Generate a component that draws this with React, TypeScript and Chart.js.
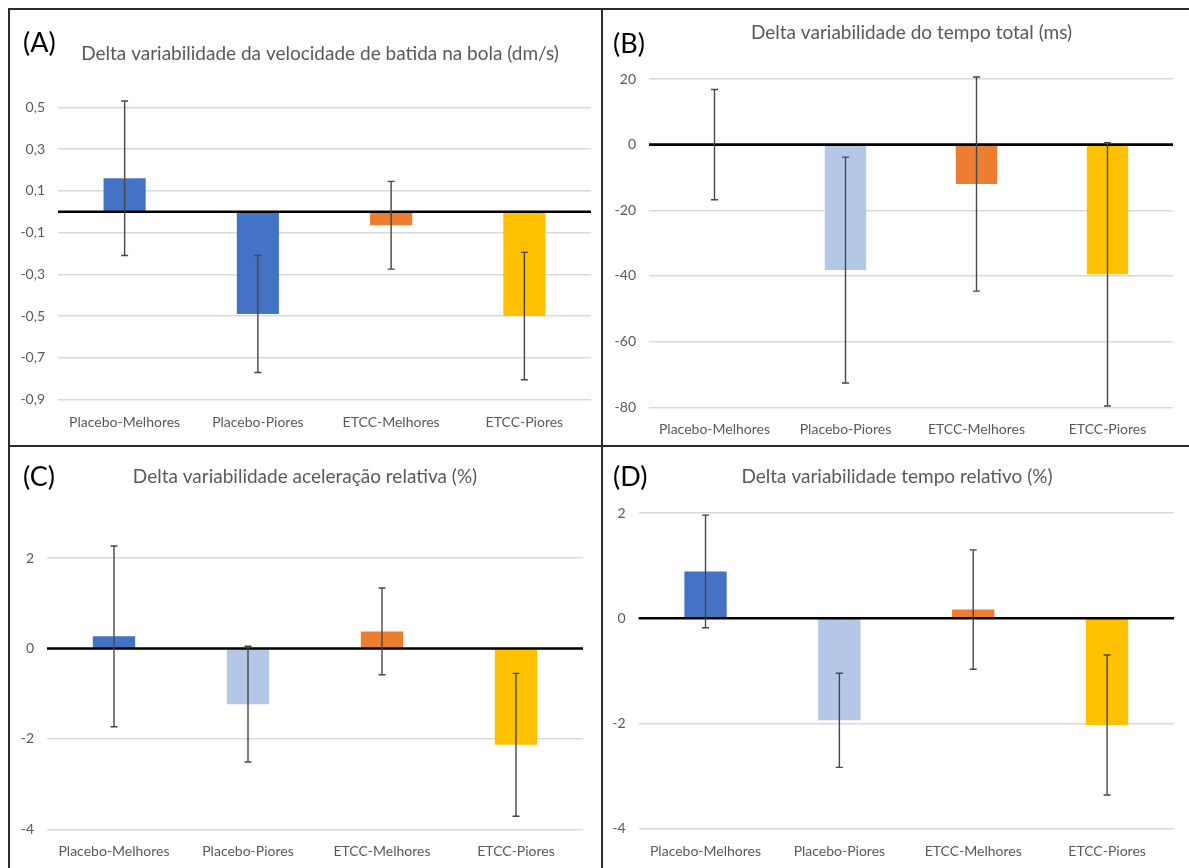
import React, { useEffect, useRef } from 'react';
import { Chart, registerables } from 'chart.js';
Chart.register(...registerables);

const categories = ['Placebo-Melhores', 'Placebo-Piores', 'ETCC-Melhores', 'ETCC-Piores'];

const valuesA = [0.16, -0.49, -0.065, -0.5];
const errorsA = [0.37, 0.28, 0.21, 0.305];
const ticksA = [0.5, 0.3, 0.1, -0.1, -0.3, -0.5, -0.7, -0.9];

const valuesB = [0, -38.2, -12, -39.5];
const errorsB = [16.8, 34.4, 32.6, 40.1];
const ticksB = [20, 0, -20, -40, -60, -80];

const valuesC = [0.27, -1.23, 0.38, -2.13];
const errorsC = [2.0, 1.28, 0.96, 1.58];
const ticksC = [2, 0, -2, -4];

const valuesD = [0.89, -1.94, 0.165, -2.03];
const errorsD = [1.07, 0.895, 1.135, 1.33];
const ticksD = [2, 0, -2, -4];

const colorsA = ['#4472C4', '#4472C4', '#ED7D31', '#FFC000'];
const colorsBCD = ['#4472C4', '#B4C7E7', '#ED7D31', '#FFC000'];

type Panel = {
  letter: string;
  title: string;
  values: number[];
  errors: number[];
  ticks: number[];
  colors: string[];
  min: number;
  max: number;
  canvas: { left: number; top: number; width: number; height: number };
  area: { left: number; right: number; top: number; bottom: number };
  titlePos: { x: number; y: number };
  letterPos: { x: number; y: number };
};

const panels: Panel[] = [
  {
    letter: '(A)',
    title: 'Delta variabilidade da velocidade de batida na bola (dm/s)',
    values: valuesA, errors: errorsA, ticks: ticksA, colors: colorsA,
    min: -0.9, max: 0.6,
    canvas: { left: 10, top: 10, width: 590, height: 435 },
    area: { left: 58, right: 591, top: 86.4, bottom: 399.6 },
    titlePos: { x: 320, y: 60 },
    letterPos: { x: 23, y: 52 },
  },
  {
    letter: '(B)',
    title: 'Delta variabilidade do tempo total (ms)',
    values: valuesB, errors: errorsB, ticks: ticksB, colors: colorsBCD,
    min: -80, max: 20,
    canvas: { left: 603, top: 10, width: 586, height: 435 },
    area: { left: 649, right: 1173, top: 79, bottom: 407.3 },
    titlePos: { x: 911.5, y: 39 },
    letterPos: { x: 613, y: 53 },
  },
  {
    letter: '(C)',
    title: 'Delta variabilidade aceleração relativa (%)',
    values: valuesC, errors: errorsC, ticks: ticksC, colors: colorsBCD,
    min: -4, max: 3,
    canvas: { left: 10, top: 447, width: 590, height: 421 },
    area: { left: 47, right: 583, top: 513, bottom: 829.3 },
    titlePos: { x: 305, y: 482.7 },
    letterPos: { x: 23, y: 486 },
  },
  {
    letter: '(D)',
    title: 'Delta variabilidade tempo relativo (%)',
    values: valuesD, errors: errorsD, ticks: ticksD, colors: colorsBCD,
    min: -4, max: 2,
    canvas: { left: 603, top: 447, width: 586, height: 421 },
    area: { left: 638.6, right: 1174, top: 513, bottom: 828.7 },
    titlePos: { x: 897, y: 482.7 },
    letterPos: { x: 613, y: 486 },
  },
];

const FONT = 'Lato, "Open Sans", sans-serif';

function fmt(v: number): string {
  const r = Math.round(v * 10) / 10;
  return String(r).replace('.', ',');
}

function PanelChart({ p }: { p: Panel }) {
  const ref = useRef<HTMLCanvasElement | null>(null);
  useEffect(() => {
    if (!ref.current) return;
    const c = p.canvas;
    const a = p.area;
    const yWidth = a.left - c.left;
    const xHeight = c.top + c.height - a.bottom;
    const padTop = a.top - c.top;
    const padRight = c.left + c.width - a.right;

    const overlay = {
      id: 'overlay' + p.letter,
      afterDatasetsDraw(chart: any) {
        const ctx = chart.ctx;
        const area = chart.chartArea;
        const ys = chart.scales.y;
        const xs = chart.scales.x;
        const y0 = ys.getPixelForValue(0);
        ctx.save();
        ctx.strokeStyle = '#000000';
        ctx.lineWidth = 2.6;
        ctx.beginPath();
        ctx.moveTo(area.left, y0);
        ctx.lineTo(area.right, y0);
        ctx.stroke();
        ctx.strokeStyle = '#474747';
        ctx.lineWidth = 1.4;
        p.values.forEach((v, i) => {
          const x = xs.getPixelForValue(i);
          const yt = ys.getPixelForValue(v + p.errors[i]);
          const yb = ys.getPixelForValue(v - p.errors[i]);
          ctx.beginPath();
          ctx.moveTo(x, yt);
          ctx.lineTo(x, yb);
          ctx.moveTo(x - 3.5, yt);
          ctx.lineTo(x + 3.5, yt);
          ctx.moveTo(x - 3.5, yb);
          ctx.lineTo(x + 3.5, yb);
          ctx.stroke();
        });
        ctx.restore();
      },
      afterDraw(chart: any) {
        const ctx = chart.ctx;
        ctx.save();
        ctx.textBaseline = 'alphabetic';
        ctx.fillStyle = '#595959';
        ctx.font = '19px ' + FONT;
        ctx.textAlign = 'center';
        ctx.fillText(p.title, p.titlePos.x - c.left, p.titlePos.y - c.top);
        ctx.fillStyle = '#000000';
        ctx.font = '27px ' + FONT;
        ctx.textAlign = 'left';
        ctx.fillText(p.letter, p.letterPos.x - c.left, p.letterPos.y - c.top);
        ctx.restore();
      },
    };

    const chart = new Chart(ref.current, {
      type: 'bar',
      data: {
        labels: categories,
        datasets: [
          {
            data: p.values,
            backgroundColor: p.colors,
            borderWidth: 0,
            categoryPercentage: 1,
            barPercentage: 0.316,
          },
        ],
      },
      options: {
        animation: false,
        responsive: false,
        devicePixelRatio: 1,
        layout: { padding: { top: padTop, right: padRight, bottom: 0, left: 0 } },
        plugins: { legend: { display: false }, tooltip: { enabled: false }, title: { display: false } },
        scales: {
          x: {
            grid: { display: false, drawTicks: false },
            border: { display: false },
            ticks: {
              color: '#595959',
              font: { family: FONT, size: 14 },
              padding: 14,
              maxRotation: 0,
              autoSkip: false,
            },
            afterFit: (scale: any) => { scale.height = xHeight; },
          },
          y: {
            min: p.min,
            max: p.max,
            grid: { color: '#D9D9D9', lineWidth: 1.5, drawTicks: false },
            border: { display: false },
            ticks: {
              color: '#595959',
              font: { family: FONT, size: 14 },
              padding: 13,
              callback: (v: any) => fmt(Number(v)),
            },
            afterBuildTicks: (axis: any) => {
              axis.ticks = p.ticks.map((v) => ({ value: v }));
            },
            afterFit: (scale: any) => { scale.width = yWidth; },
          },
        },
      } as any,
      plugins: [overlay],
    });
    return () => chart.destroy();
  }, [p]);

  return (
    <canvas
      ref={ref}
      width={p.canvas.width}
      height={p.canvas.height}
      style={{
        position: 'absolute',
        left: p.canvas.left,
        top: p.canvas.top,
        width: p.canvas.width,
        height: p.canvas.height,
      }}
    />
  );
}

export default function App() {
  const line = '#2b2b2b';
  return (
    <div style={{ position: 'fixed', left: 0, top: 0, width: 1189, height: 868, background: '#ffffff', overflow: 'hidden' }}>
      {panels.map((p) => (
        <PanelChart key={p.letter} p={p} />
      ))}
      <div style={{ position: 'absolute', left: 8, top: 8, width: 1181, height: 2, background: line }} />
      <div style={{ position: 'absolute', left: 8, top: 8, width: 2, height: 860, background: line }} />
      <div style={{ position: 'absolute', left: 601, top: 8, width: 2, height: 860, background: line }} />
      <div style={{ position: 'absolute', left: 8, top: 445, width: 1181, height: 2, background: line }} />
    </div>
  );
}
